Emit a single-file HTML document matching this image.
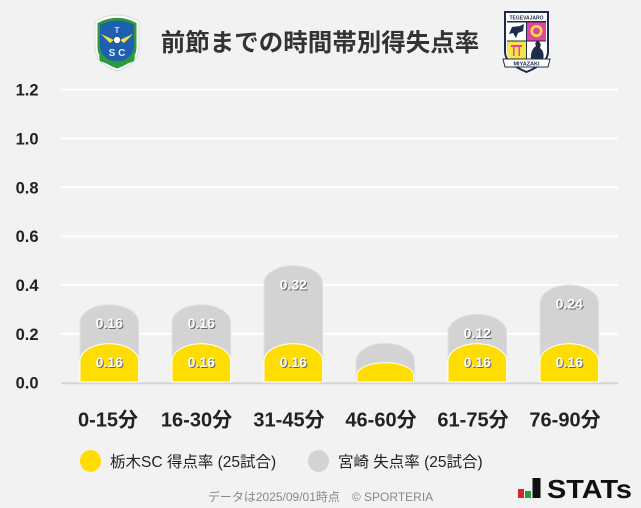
<!DOCTYPE html>
<html><head><meta charset="utf-8"><style>
html,body{margin:0;padding:0;background:#f2f2f2;}
svg{display:block;}
text{font-family:"Liberation Sans","Noto Sans CJK JP",sans-serif;}
</style></head><body>
<svg width="641" height="508" viewBox="0 0 641 508" xmlns="http://www.w3.org/2000/svg">
<rect width="641" height="508" fill="#f2f2f2"/>

<!-- Tochigi logo -->
<g>
<path d="M95,21 Q117,9 139,21 L139,47 Q139,64 117,71 Q95,64 95,47 Z" fill="#fff" stroke="#d8d8d8" stroke-width="1"/>
<path d="M97.5,23 Q117,12.5 136.5,23 L136.5,47 Q136.5,62 117,68.5 Q97.5,62 97.5,47 Z" fill="#2e9a3e"/>
<path d="M100,25 Q117,16 134,25 L134,46 Q134,58 117,63 Q100,58 100,46 Z" fill="#1f5fb0"/>
<path d="M101,34 L114,40 L110,43 Z M133,34 L120,40 L124,43 Z" fill="#f3e13a"/>
<circle cx="117" cy="40" r="3.5" fill="#fff" stroke="#333" stroke-width="0.6"/>
<text x="117" y="33" font-size="8" font-weight="bold" fill="#cfe3ff" text-anchor="middle">T</text>
<text x="117" y="56" font-size="10" font-weight="bold" fill="#e8f0ff" text-anchor="middle">S C</text>
<path d="M99,56 Q117,66 135,56 L134,61 Q117,69 100,61 Z" fill="#2e9a3e"/>
</g>

<!-- Miyazaki logo -->
<g>
<path d="M505,12 L548,12 L548,52 Q548,63 526.5,72 Q505,63 505,52 Z" fill="#fff" stroke="#1e2b4a" stroke-width="2"/>
<rect x="507" y="14" width="39" height="6" fill="#fff"/>
<text x="526.5" y="19.5" font-size="5" font-weight="bold" fill="#1e2b4a" text-anchor="middle">TEGEVAJARO</text>
<rect x="507" y="21" width="39" height="1.5" fill="#1e2b4a"/>
<rect x="507" y="22.5" width="19" height="18" fill="#fff"/>
<path d="M509,34 L512,27 L520,26 L524,24 L523,31 L518,33 L516,38 L513,33 Z" fill="#1e2b4a"/>
<rect x="527" y="22.5" width="19" height="18" fill="#e2459a"/>
<circle cx="536.5" cy="31" r="6" fill="#f6e34a"/>
<circle cx="536.5" cy="31" r="3.5" fill="#e2459a"/>
<rect x="526" y="22.5" width="1" height="38" fill="#1e2b4a"/>
<rect x="507" y="40.5" width="39" height="1" fill="#1e2b4a"/>
<path d="M507,41.5 L526,41.5 L526,60 L512,60 Q507,56 507,52 Z" fill="#f6e34a"/>
<rect x="511" y="45" width="11" height="2" fill="#e2459a"/>
<rect x="513" y="47" width="1.5" height="9" fill="#e2459a"/>
<rect x="518.5" y="47" width="1.5" height="9" fill="#e2459a"/>
<path d="M527,41.5 L546,41.5 L546,52 Q546,56 541,60 L527,60 Z" fill="#fff"/>
<path d="M531,60 Q530,50 536,46 Q534,42 538,41 Q542,43 540,48 Q545,52 543,60 Z" fill="#1e2b4a"/>
<path d="M503,59 L550,59 L548,67 L505,67 Z" fill="#fff" stroke="#1e2b4a" stroke-width="1"/>
<text x="526.5" y="65.5" font-size="5.5" font-weight="bold" fill="#1e2b4a" text-anchor="middle">MIYAZAKI</text>
</g>

<!-- Title -->
<text x="320" y="51" font-size="24.5" font-weight="bold" fill="#333" text-anchor="middle">前節までの時間帯別得失点率</text>

<!-- Gridlines -->
<g stroke="#ffffff" stroke-width="2">
<line x1="61" x2="618" y1="89.7" y2="89.7"/>
<line x1="61" x2="618" y1="138.5" y2="138.5"/>
<line x1="61" x2="618" y1="187.3" y2="187.3"/>
<line x1="61" x2="618" y1="236.2" y2="236.2"/>
<line x1="61" x2="618" y1="285" y2="285"/>
<line x1="61" x2="618" y1="333.9" y2="333.9"/>
</g>
<line x1="61" x2="618" y1="383.2" y2="383.2" stroke="#d4d4d4" stroke-width="2"/>

<!-- Y labels -->
<g font-size="16.5" font-weight="bold" fill="#222" text-anchor="end">
<text x="38.5" y="95.7">1.2</text>
<text x="38.5" y="144.5">1.0</text>
<text x="38.5" y="193.3">0.8</text>
<text x="38.5" y="242.2">0.6</text>
<text x="38.5" y="291">0.4</text>
<text x="38.5" y="339.9">0.2</text>
<text x="38.5" y="388.5">0.0</text>
</g>

<!-- Gray bars -->
<g fill="#d3d3d3" stroke="#e2e2e2" stroke-width="1">
<path d="M80,382 L80,322.6 A29.3 18 0 0 1 138.6,322.6 L138.6,382 Z"/>
<path d="M172,382 L172,322.6 A29.3 18 0 0 1 230.6,322.6 L230.6,382 Z"/>
<path d="M264,382 L264,283.5 A29.3 18 0 0 1 322.6,283.5 L322.6,382 Z"/>
<path d="M356,382 L356,361.3 A29.3 18 0 0 1 414.6,361.3 L414.6,382 Z"/>
<path d="M448,382 L448,332.3 A29.3 18 0 0 1 506.6,332.3 L506.6,382 Z"/>
<path d="M540,382 L540,303 A29.3 18 0 0 1 598.6,303 L598.6,382 Z"/>
</g>
<!-- Yellow bars -->
<g fill="#ffdd00" stroke="#ffffff" stroke-width="1">
<path d="M80,382 L80,361 A29.3 17.4 0 0 1 138.6,361 L138.6,382 Z"/>
<path d="M172,382 L172,361 A29.3 17.4 0 0 1 230.6,361 L230.6,382 Z"/>
<path d="M264,382 L264,361 A29.3 17.4 0 0 1 322.6,361 L322.6,382 Z"/>
<path d="M357,382 L357,375 A28.3 12.3 0 0 1 413.6,375 L413.6,382 Z"/>
<path d="M448,382 L448,361 A29.3 17.4 0 0 1 506.6,361 L506.6,382 Z"/>
<path d="M540,382 L540,361 A29.3 17.4 0 0 1 598.6,361 L598.6,382 Z"/>
</g>

<!-- Value labels -->
<g font-size="14" font-weight="bold" text-anchor="middle">
<g fill="#666" transform="translate(1,1)">
<text x="109.3" y="328">0.16</text>
<text x="201.3" y="328">0.16</text>
<text x="293.3" y="289.5">0.32</text>
<text x="477.3" y="338">0.12</text>
<text x="569.3" y="308.5">0.24</text>
<text x="109.3" y="367">0.16</text>
<text x="201.3" y="367">0.16</text>
<text x="293.3" y="367">0.16</text>
<text x="477.3" y="367">0.16</text>
<text x="569.3" y="367">0.16</text>
</g>
<g fill="#fff">
<text x="109.3" y="328">0.16</text>
<text x="201.3" y="328">0.16</text>
<text x="293.3" y="289.5">0.32</text>
<text x="477.3" y="338">0.12</text>
<text x="569.3" y="308.5">0.24</text>
<text x="109.3" y="367">0.16</text>
<text x="201.3" y="367">0.16</text>
<text x="293.3" y="367">0.16</text>
<text x="477.3" y="367">0.16</text>
<text x="569.3" y="367">0.16</text>
</g>
</g>

<!-- X labels -->
<g font-size="20" font-weight="bold" fill="#222" text-anchor="middle">
<text x="108" y="426.5">0-15分</text>
<text x="196.5" y="426.5">16-30分</text>
<text x="289" y="426.5">31-45分</text>
<text x="381" y="426.5">46-60分</text>
<text x="473" y="426.5">61-75分</text>
<text x="565" y="426.5">76-90分</text>
</g>

<!-- Legend -->
<ellipse cx="90.5" cy="461" rx="10.5" ry="11" fill="#ffdd00"/>
<text x="110" y="467" font-size="15.5" fill="#222">栃木SC 得点率 (25試合)</text>
<ellipse cx="318.5" cy="461" rx="10.5" ry="11" fill="#d3d3d3"/>
<text x="338" y="467" font-size="15.5" fill="#222">宮崎 失点率 (25試合)</text>

<!-- Footer -->
<text x="320.5" y="501" font-size="12" fill="#888" text-anchor="middle">データは2025/09/01時点　© SPORTERIA</text>

<!-- STATs -->
<rect x="518" y="489" width="6" height="9" fill="#d9262a"/>
<rect x="525" y="491" width="6" height="7" fill="#20a040"/>
<rect x="532.5" y="478" width="8" height="20" fill="#111"/>
<text x="547" y="498" font-size="26" font-weight="bold" fill="#111" textLength="85" lengthAdjust="spacingAndGlyphs">STATs</text>
</svg>
</body></html>
